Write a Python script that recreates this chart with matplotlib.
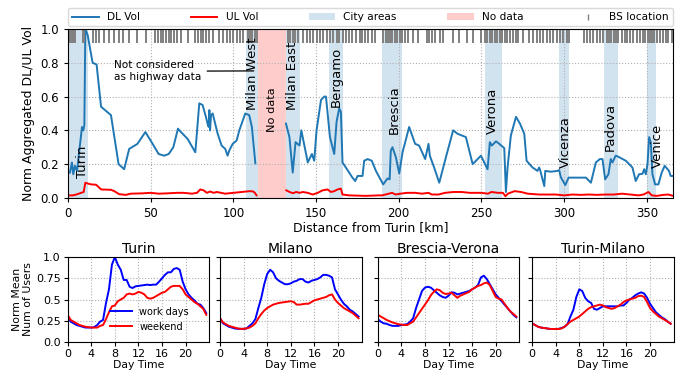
import numpy as np
import matplotlib
matplotlib.use("Agg")
import matplotlib.pyplot as plt
from matplotlib.patches import Patch
from matplotlib.lines import Line2D

# ---- highway volumes vs distance (km from Turin) ----
dl_km_west = [1.2, 2.4, 3.2, 4.2, 5.5, 6.5, 8.5, 9.3, 9.9, 10.5, 11.9, 14.9, 17.3, 20.0, 26.0,
              30.6, 34.0, 37.0, 42.0, 46.8, 51.2, 54.8, 58.2, 60.9, 63.7, 66.5, 68.3, 72.3, 77.0,
              79.4, 81.4, 83.4, 84.4, 85.1, 85.5, 85.9, 86.5, 87.5, 90.5, 92.9, 95.1, 96.5, 97.5,
              99.6, 102.0, 103.6, 107.2, 109.6, 111.2, 113.3]
dl_west = [0.15, 0.21, 0.14, 0.19, 0.16, 0.25, 0.42, 0.40, 0.43, 1.00, 0.965, 0.80, 0.79, 0.54,
           0.49, 0.20, 0.17, 0.29, 0.32, 0.39, 0.32, 0.26, 0.25, 0.26, 0.30, 0.41, 0.39, 0.35,
           0.27, 0.56, 0.55, 0.48, 0.44, 0.42, 0.52, 0.40, 0.49, 0.50, 0.38, 0.31, 0.29, 0.25,
           0.28, 0.32, 0.34, 0.40, 0.50, 0.49, 0.42, 0.205]
dl_km_east = [131.8, 133.9, 135.9, 137.6, 140, 141.1, 145, 147.5, 148.9, 150.3, 153, 155, 156,
              158.4, 161, 162.4, 164, 165, 166, 168, 172, 173.7, 175.1, 178.1, 179.1, 181.2,
              183.7, 186.2, 190.6, 193.2, 194.5, 195.2, 196.2, 198.3, 200.3, 202.3, 206.3, 209.9,
              212.3, 216, 218, 218.8, 221.4, 224.5, 228.5, 232.9, 235.5, 240.6, 244.7, 249.7,
              253.7, 255.1, 256.3, 258.8, 260.8, 263.8, 264.8, 265.8, 267.8, 270.9, 273.3, 275.9,
              277.3, 280.9, 283.9, 284.9, 285.5, 288, 288.6, 292, 296, 297, 298, 300.7, 302.7,
              309.2, 313.2, 316.2, 319.2, 321.6, 323.2, 324.8, 326.8, 328.2, 329.2, 331.2, 332.5,
              337.3, 341.3, 343.3, 345.3, 347.4, 348.4, 349.4, 350.4, 351.4, 352.4, 353.4, 355,
              357, 359, 360.8, 363.4, 364.4, 365.8]
dl_east = [0.44, 0.36, 0.15, 0.33, 0.31, 0.40, 0.21, 0.26, 0.22, 0.40, 0.58, 0.60, 0.60, 0.36,
           0.26, 0.45, 0.53, 0.51, 0.21, 0.18, 0.12, 0.10, 0.13, 0.13, 0.22, 0.23, 0.22, 0.16,
           0.08, 0.115, 0.11, 0.28, 0.30, 0.24, 0.145, 0.27, 0.42, 0.32, 0.31, 0.23, 0.32, 0.25,
           0.18, 0.09, 0.24, 0.40, 0.38, 0.36, 0.20, 0.25, 0.17, 0.33, 0.31, 0.335, 0.32, 0.295,
           0.035, 0.18, 0.37, 0.48, 0.44, 0.38, 0.22, 0.18, 0.16, 0.18, 0.165, 0.07, 0.16, 0.155,
           0.16, 0.165, 0.123, 0.076, 0.12, 0.12, 0.12, 0.09, 0.21, 0.23, 0.23, 0.11, 0.14, 0.23,
           0.21, 0.25, 0.245, 0.22, 0.18, 0.10, 0.14, 0.143, 0.17, 0.14, 0.20, 0.36, 0.33, 0.14,
           0.08, 0.08, 0.15, 0.19, 0.16, 0.13, 0.13]

ul_km_west = [1, 3, 5, 8, 9.5, 10.5, 12, 14, 17, 19, 20, 26, 28, 31, 35, 38, 45, 50, 55, 60, 66,
              70, 75, 78, 80, 82, 84, 86, 88, 90, 95, 100, 105, 110, 112, 113, 114]
ul_west = [0.015, 0.015, 0.02, 0.03, 0.035, 0.09, 0.085, 0.08, 0.078, 0.06, 0.05, 0.048, 0.04,
           0.022, 0.018, 0.025, 0.027, 0.03, 0.025, 0.027, 0.03, 0.03, 0.025, 0.03, 0.05, 0.045,
           0.03, 0.038, 0.03, 0.035, 0.025, 0.03, 0.035, 0.04, 0.038, 0.03, 0.015]
ul_km_east = [132, 134, 136, 138, 140, 142, 145, 148, 151, 154, 157, 159, 161, 163, 165, 166, 170,
              180, 188, 190, 194, 196, 198, 201, 205, 210, 214, 218, 220, 224, 228, 233, 238, 243,
              250, 254, 256, 260, 263, 264.5, 266, 270, 274, 278, 285, 290, 295, 300, 305, 310,
              315, 320, 325, 330, 335, 340, 345, 348, 351, 353, 356, 360, 363, 366]
ul_east = [0.045, 0.035, 0.028, 0.035, 0.03, 0.035, 0.03, 0.02, 0.03, 0.045, 0.05, 0.035, 0.04,
           0.05, 0.055, 0.02, 0.015, 0.012, 0.015, 0.015, 0.025, 0.03, 0.02, 0.025, 0.03, 0.03,
           0.025, 0.03, 0.02, 0.02, 0.03, 0.035, 0.035, 0.03, 0.03, 0.025, 0.035, 0.03, 0.03,
           0.01, 0.025, 0.04, 0.035, 0.025, 0.02, 0.02, 0.02, 0.015, 0.02, 0.018, 0.02, 0.018,
           0.02, 0.02, 0.025, 0.02, 0.015, 0.02, 0.035, 0.015, 0.012, 0.018, 0.02, 0.012]

bs_km = [0.4, 1.2, 2.4, 3.2, 4.4, 8.9, 9.9, 15, 17, 19, 21.6, 24.6, 27.6, 31, 33.5, 37, 42, 47,
         52.8, 54.4, 56, 57.6, 59.3, 60.9, 62.5, 64.3, 65.9, 68.3, 72.3, 77, 78.6, 80.2, 81.8,
         83.4, 85, 87.5, 91.5, 93.9, 95.9, 97.9, 100, 102, 104, 105.6, 108.6, 110, 111.5, 112.9,
         114.3, 132.8, 134.2, 135.8, 137.5, 138.9, 141.9, 144.3, 146.3, 148.3, 150.3, 152.4,
         154.4, 156.4, 158.4, 160.4, 162.4, 164, 166, 168, 170, 172, 174, 176.5, 178, 179.8,
         181.2, 183.6, 185.6, 190.7, 192, 193.5, 194.5, 196, 197.5, 199, 200.5, 201.7, 203.8,
         205.8, 208.4, 211.8, 216.9, 218.5, 219.9, 221.9, 224.9, 226.5, 233, 236.6, 241, 245.1,
         249.7, 252.3, 253.5, 255, 256.5, 258, 259.5, 261, 262.2, 264.2, 265.6, 267.2, 268.9,
         270.9, 272.3, 275.3, 279, 281.4, 283.4, 285.4, 287.4, 289.4, 291.4, 293.4, 295.5, 297.5,
         299.5, 301.5, 303.1, 312, 313.6, 315.6, 317.2, 319.6, 321.7, 323.7, 325.7, 327, 328.5,
         330, 331.3, 332.7, 334.8, 336.8, 338.2, 339.8, 341.8, 343.8, 345.8, 347.4, 349, 350.7,
         352, 353.3, 354.6, 355.9, 357.9, 360, 361.6, 363, 365]

city_names = ["Turin", "Milan West", "Milan East", "Bergamo", "Brescia", "Verona",
              "Vicenza", "Padova", "Venice"]
city_spans = [(0, 11.9), (107.6, 114.7), (131.8, 140.3), (157.8, 166.1), (189.7, 201.8),
              (252.1, 262.2), (296.9, 302.9), (324.1, 332.3), (349.9, 355.3)]
city_label_x = [9, 111.5, 136, 162, 197, 256.5, 301, 328, 356.5]
city_label_y = [0.12, 0.52, 0.52, 0.54, 0.38, 0.38, 0.18, 0.28, 0.18]
nodata_span = (114.7, 131.8)

# ---- daily profiles (half-hour steps) ----
hours = np.arange(0, 24, 0.5)
areas = ["Turin", "Milano", "Brescia-Verona", "Turin-Milano"]
work = {
    "Turin": [0.30, 0.24, 0.22, 0.20, 0.19, 0.18, 0.17, 0.17, 0.17, 0.175, 0.20, 0.24, 0.26, 0.46,
              0.62, 0.91, 1.00, 0.91, 0.85, 0.73, 0.73, 0.65, 0.635, 0.655, 0.66, 0.665, 0.67,
              0.675, 0.67, 0.675, 0.675, 0.71, 0.75, 0.79, 0.82, 0.82, 0.86, 0.87, 0.85, 0.71,
              0.62, 0.56, 0.52, 0.49, 0.45, 0.44, 0.40, 0.34],
    "Milano": [0.28, 0.22, 0.20, 0.18, 0.17, 0.16, 0.155, 0.155, 0.155, 0.16, 0.19, 0.22, 0.27,
               0.40, 0.52, 0.68, 0.80, 0.85, 0.82, 0.75, 0.72, 0.70, 0.68, 0.68, 0.69, 0.71,
               0.72, 0.74, 0.74, 0.71, 0.70, 0.72, 0.73, 0.74, 0.76, 0.79, 0.79, 0.78, 0.76,
               0.62, 0.56, 0.50, 0.45, 0.42, 0.38, 0.36, 0.33, 0.30],
    "Brescia-Verona": [0.27, 0.24, 0.22, 0.215, 0.20, 0.19, 0.19, 0.19, 0.20, 0.205, 0.21, 0.24,
                       0.28, 0.40, 0.50, 0.60, 0.64, 0.65, 0.64, 0.61, 0.58, 0.55, 0.53, 0.52,
                       0.545, 0.585, 0.58, 0.56, 0.57, 0.58, 0.59, 0.60, 0.62, 0.64, 0.67, 0.76,
                       0.78, 0.74, 0.68, 0.62, 0.56, 0.52, 0.48, 0.44, 0.40, 0.36, 0.32, 0.29],
    "Turin-Milano": [0.22, 0.20, 0.18, 0.17, 0.165, 0.16, 0.153, 0.153, 0.153, 0.155, 0.165, 0.18,
                     0.21, 0.30, 0.38, 0.53, 0.62, 0.60, 0.52, 0.48, 0.46, 0.39, 0.38, 0.40, 0.42,
                     0.42, 0.42, 0.42, 0.42, 0.42, 0.43, 0.43, 0.46, 0.50, 0.52, 0.55, 0.57,
                     0.585, 0.57, 0.52, 0.45, 0.40, 0.35, 0.32, 0.29, 0.27, 0.24, 0.215],
}
weekend = {
    "Turin": [0.32, 0.26, 0.24, 0.22, 0.20, 0.19, 0.18, 0.175, 0.17, 0.17, 0.17, 0.19, 0.20, 0.27,
              0.35, 0.42, 0.43, 0.48, 0.50, 0.52, 0.56, 0.57, 0.56, 0.57, 0.59, 0.58, 0.56, 0.52,
              0.51, 0.52, 0.54, 0.56, 0.58, 0.59, 0.62, 0.65, 0.66, 0.66, 0.66, 0.62, 0.56, 0.53,
              0.50, 0.47, 0.45, 0.42, 0.39, 0.32],
    "Milano": [0.28, 0.23, 0.21, 0.19, 0.18, 0.17, 0.16, 0.155, 0.155, 0.16, 0.17, 0.19, 0.22,
               0.28, 0.33, 0.37, 0.40, 0.42, 0.44, 0.45, 0.46, 0.465, 0.47, 0.475, 0.48, 0.47,
               0.44, 0.44, 0.445, 0.45, 0.45, 0.47, 0.49, 0.50, 0.51, 0.52, 0.53, 0.55, 0.56,
               0.50, 0.46, 0.43, 0.40, 0.38, 0.36, 0.34, 0.31, 0.28],
    "Brescia-Verona": [0.32, 0.30, 0.28, 0.26, 0.245, 0.23, 0.22, 0.21, 0.205, 0.20, 0.20, 0.22,
                       0.24, 0.29, 0.34, 0.39, 0.44, 0.49, 0.55, 0.59, 0.62, 0.61, 0.58, 0.565,
                       0.57, 0.58, 0.55, 0.52, 0.545, 0.56, 0.575, 0.59, 0.62, 0.64, 0.66, 0.67,
                       0.69, 0.70, 0.67, 0.60, 0.53, 0.51, 0.50, 0.45, 0.40, 0.36, 0.33, 0.30],
    "Turin-Milano": [0.22, 0.20, 0.18, 0.17, 0.165, 0.16, 0.155, 0.153, 0.153, 0.153, 0.16, 0.18,
                     0.21, 0.24, 0.26, 0.28, 0.30, 0.33, 0.36, 0.39, 0.41, 0.42, 0.43, 0.44, 0.43,
                     0.41, 0.40, 0.39, 0.40, 0.42, 0.44, 0.47, 0.49, 0.50, 0.51, 0.52, 0.54,
                     0.545, 0.53, 0.47, 0.40, 0.36, 0.33, 0.30, 0.28, 0.26, 0.24, 0.215],
}

blue = "#1f77b4"
fig = plt.figure(figsize=(6.77, 3.72), dpi=100)

# top: volumes along the highway
ax = fig.add_axes([0.1004, 0.468, 0.8941, 0.454])
for a, b in city_spans:
    ax.axvspan(a, b, color=blue, alpha=0.2, lw=0)
ax.axvspan(*nodata_span, color="red", alpha=0.2, lw=0)

dl_x = dl_km_west + [np.nan] + dl_km_east
dl_y = dl_west + [np.nan] + dl_east
ul_x = ul_km_west + [np.nan] + ul_km_east
ul_y = ul_west + [np.nan] + ul_east
ax.plot(dl_x, dl_y, color=blue, lw=1.4)
ax.plot(ul_x, ul_y, color="red", lw=1.4)
ax.vlines(bs_km, 0.918, 1.0, color="gray", lw=1.4)

for name, x, y in zip(city_names, city_label_x, city_label_y):
    ax.text(x, y, name, rotation=90, ha="center", va="bottom", fontsize=9.5)
ax.text(sum(nodata_span) / 2, 0.52, "No data", rotation=90, ha="center", va="center",
        fontsize=8.2)
ax.annotate("Not considered\nas highway data", xy=(114, 0.752), xytext=(28, 0.75),
            ha="left", va="center", fontsize=7.6,
            arrowprops=dict(arrowstyle="-", color="black", lw=0.9))

ax.set_xlim(0, 366)
ax.set_ylim(0, 1.0)
ax.set_xticks(range(0, 351, 50))
ax.set_yticks(np.arange(0, 1.01, 0.2))
ax.tick_params(labelsize=8.5, length=3)
ax.grid(ls=":", color="#b0b0b0", lw=0.8)
ax.set_xlabel("Distance from Turin [km]", fontsize=9, labelpad=1)
ax.set_ylabel("Norm Aggregated DL/UL Vol", fontsize=9)

handles = [Line2D([], [], color=blue, lw=1.4), Line2D([], [], color="red", lw=1.4),
           Patch(facecolor=blue, alpha=0.2), Patch(facecolor="red", alpha=0.2),
           Line2D([], [], color="gray", marker="|", ls="", ms=5)]
labels = ["DL Vol", "UL Vol", "City areas", "No data", "BS location"]
ax.legend(handles, labels, ncol=5, mode="expand", loc="lower left",
          bbox_to_anchor=(0, 1.015, 1, 0.1), fontsize=7.6, borderaxespad=0,
          handlelength=2.5, edgecolor="#d0d0d0")

# bottom: daily profiles
lefts = [0.100, 0.325, 0.558, 0.786]
for i, area in enumerate(areas):
    bx = fig.add_axes([lefts[i], 0.0806, 0.209, 0.2285])
    bx.plot(hours, work[area], color="blue", lw=1.4, label="work days")
    bx.plot(hours, weekend[area], color="red", lw=1.4, label="weekend")
    bx.set_xlim(0, 24)
    bx.set_ylim(0, 1.0)
    bx.set_xticks(range(0, 21, 4))
    bx.set_yticks([0, 0.25, 0.5, 0.75, 1.0])
    bx.set_yticklabels(["0.0", "0.25", "0.5", "0.75", "1.0"])
    bx.tick_params(labelsize=8, length=3, pad=2)
    bx.grid(ls=":", color="#b0b0b0", lw=0.8)
    bx.set_title(area, fontsize=10, pad=3)
    bx.set_xlabel("Day Time", fontsize=7.8, labelpad=1)
    if i == 0:
        bx.set_ylabel("Norm Mean\nNum of Users", fontsize=7.8, labelpad=2)
        bx.legend(loc="lower right", bbox_to_anchor=(0.92, 0.02), fontsize=7,
                  frameon=False, handlelength=2.2)
    else:
        bx.set_yticklabels([])

fig.savefig("out.png", dpi=100)
